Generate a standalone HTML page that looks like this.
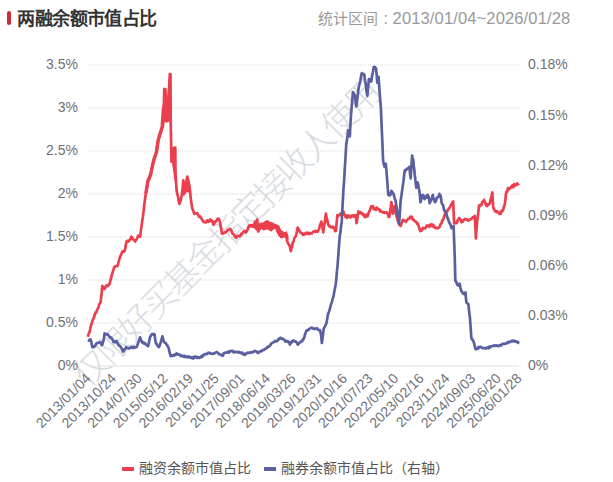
<!DOCTYPE html>
<html lang="zh-CN"><head><meta charset="utf-8">
<style>
html,body{margin:0;padding:0;background:#fff;width:613px;height:482px;overflow:hidden}
body{font-family:"Liberation Sans",sans-serif;position:relative}
svg{position:absolute;left:0;top:0}
.g{stroke:#dadada;stroke-width:1;stroke-dasharray:1 1}
.yl{font-size:14px;fill:#6e7079;font-family:"Liberation Sans",sans-serif}
.xl{font-size:14px;fill:#6e7079;font-family:"Liberation Sans",sans-serif}
.wm{font-size:35px;fill:#d5d9e0;stroke:#fff;stroke-width:0.8px}
</style></head><body>
<svg width="613" height="482" viewBox="0 0 613 482">
<rect x="7" y="11" width="4" height="14" rx="2" fill="#cc2b36"/>
<text x="17.3" y="25.3" font-size="18" font-weight="bold" fill="#333" textLength="140" lengthAdjust="spacing">两融余额市值占比</text>
<text x="317.6" y="23.6" font-size="15" fill="#999">统计区间</text><text x="383.5" y="24" font-size="16" fill="#999">:</text><text x="392.6" y="24.2" font-size="16.5" fill="#999" textLength="177.6" lengthAdjust="spacing">2013/01/04~2026/01/28</text>
<text class="wm" transform="translate(81.8,382.6) rotate(-45)" dominant-baseline="middle" text-anchor="start" letter-spacing="-3.1">仅限好买基金指定接收人使用</text>
<line x1="88" y1="323.0" x2="519" y2="323.0" class="g"/><line x1="88" y1="280.0" x2="519" y2="280.0" class="g"/><line x1="88" y1="237.0" x2="519" y2="237.0" class="g"/><line x1="88" y1="194.0" x2="519" y2="194.0" class="g"/><line x1="88" y1="151.0" x2="519" y2="151.0" class="g"/><line x1="88" y1="108.0" x2="519" y2="108.0" class="g"/><line x1="88" y1="65.0" x2="519" y2="65.0" class="g"/>
<line x1="88" y1="366" x2="519" y2="366" stroke="#e0e0e0" stroke-width="1"/>
<text x="78" y="369.5" text-anchor="end" class="yl">0%</text><text x="78" y="326.5" text-anchor="end" class="yl">0.5%</text><text x="78" y="283.5" text-anchor="end" class="yl">1%</text><text x="78" y="240.5" text-anchor="end" class="yl">1.5%</text><text x="78" y="197.5" text-anchor="end" class="yl">2%</text><text x="78" y="154.5" text-anchor="end" class="yl">2.5%</text><text x="78" y="111.5" text-anchor="end" class="yl">3%</text><text x="78" y="68.5" text-anchor="end" class="yl">3.5%</text>
<text x="528" y="370.3" class="yl">0%</text><text x="528" y="320.1" class="yl">0.03%</text><text x="528" y="270.0" class="yl">0.06%</text><text x="528" y="219.8" class="yl">0.09%</text><text x="528" y="169.6" class="yl">0.12%</text><text x="528" y="119.5" class="yl">0.15%</text><text x="528" y="69.3" class="yl">0.18%</text>
<text transform="translate(88.8,376.5) rotate(-45)" text-anchor="end" dominant-baseline="middle" class="xl">2013/01/04</text><text transform="translate(114.4,376.5) rotate(-45)" text-anchor="end" dominant-baseline="middle" class="xl">2013/10/24</text><text transform="translate(140.1,376.5) rotate(-45)" text-anchor="end" dominant-baseline="middle" class="xl">2014/07/30</text><text transform="translate(165.8,376.5) rotate(-45)" text-anchor="end" dominant-baseline="middle" class="xl">2015/05/12</text><text transform="translate(191.4,376.5) rotate(-45)" text-anchor="end" dominant-baseline="middle" class="xl">2016/02/19</text><text transform="translate(217.1,376.5) rotate(-45)" text-anchor="end" dominant-baseline="middle" class="xl">2016/11/25</text><text transform="translate(242.7,376.5) rotate(-45)" text-anchor="end" dominant-baseline="middle" class="xl">2017/09/01</text><text transform="translate(268.3,376.5) rotate(-45)" text-anchor="end" dominant-baseline="middle" class="xl">2018/06/14</text><text transform="translate(294.0,376.5) rotate(-45)" text-anchor="end" dominant-baseline="middle" class="xl">2019/03/26</text><text transform="translate(319.6,376.5) rotate(-45)" text-anchor="end" dominant-baseline="middle" class="xl">2019/12/31</text><text transform="translate(345.3,376.5) rotate(-45)" text-anchor="end" dominant-baseline="middle" class="xl">2020/10/16</text><text transform="translate(370.9,376.5) rotate(-45)" text-anchor="end" dominant-baseline="middle" class="xl">2021/07/23</text><text transform="translate(396.6,376.5) rotate(-45)" text-anchor="end" dominant-baseline="middle" class="xl">2022/05/10</text><text transform="translate(422.2,376.5) rotate(-45)" text-anchor="end" dominant-baseline="middle" class="xl">2023/02/16</text><text transform="translate(447.9,376.5) rotate(-45)" text-anchor="end" dominant-baseline="middle" class="xl">2023/11/24</text><text transform="translate(473.6,376.5) rotate(-45)" text-anchor="end" dominant-baseline="middle" class="xl">2024/09/03</text><text transform="translate(499.2,376.5) rotate(-45)" text-anchor="end" dominant-baseline="middle" class="xl">2025/06/20</text><text transform="translate(519.8,376.5) rotate(-45)" text-anchor="end" dominant-baseline="middle" class="xl">2026/01/28</text>
<path d="M87.9,336.9 L88.6,333.7 L89.3,332.7 L90.0,330.0 L90.7,326.5 L91.4,324.5 L92.1,322.0 L92.8,319.6 L93.5,318.3 L94.2,317.1 L94.9,314.1 L95.6,312.4 L96.3,312.5 L97.0,310.1 L97.7,308.7 L98.5,307.5 L99.2,304.3 L100.0,303.4 L100.7,301.8 L101.5,294.3 L102.3,285.9 L103.0,286.8 L103.7,288.8 L104.4,289.1 L105.2,288.4 L105.9,286.0 L106.7,285.4 L107.4,285.8 L108.1,286.0 L108.9,284.3 L109.6,283.9 L110.4,280.5 L111.1,278.1 L111.9,274.6 L112.7,272.1 L113.4,269.8 L114.2,267.1 L114.9,266.9 L115.5,266.2 L116.2,266.0 L116.8,265.8 L117.5,266.2 L118.2,263.5 L119.0,260.5 L119.8,257.4 L120.5,255.7 L121.1,254.9 L121.8,252.9 L122.4,251.4 L123.1,251.7 L123.7,250.8 L124.4,251.4 L125.1,249.2 L125.7,245.8 L126.4,241.9 L127.1,240.8 L127.9,240.9 L128.6,241.3 L129.3,240.5 L130.0,239.6 L130.6,238.8 L131.3,236.6 L132.1,237.4 L132.9,239.2 L133.6,239.9 L134.4,240.1 L135.2,241.5 L135.9,240.2 L136.7,239.3 L137.4,237.8 L138.2,235.6 L138.9,235.9 L139.5,236.4 L140.2,236.6 L140.8,230.7 L141.5,226.2 L142.1,221.8 L142.9,216.5 L143.7,210.0 L144.4,204.2 L145.2,197.7 L145.9,193.2 L146.6,189.3 L147.2,185.8 L147.9,181.0 L148.6,180.1 L149.2,177.6 L149.8,176.3 L150.5,175.0 L151.2,171.5 L152.0,168.0 L152.8,165.4 L153.5,161.0 L154.2,158.8 L155.0,156.1 L155.8,154.2 L156.5,152.0 L157.0,146.9 L157.5,145.0 L158.0,140.4 L158.5,139.0 L159.2,137.2 L160.0,134.0 L160.6,133.6 L161.2,130.3 L161.9,127.6 L162.5,126.0 L163.0,121.6 L163.5,118.0 L163.9,103.5 L164.3,89.0 L164.8,89.6 L165.3,89.0 L165.9,97.8 L166.5,106.0 L167.1,105.4 L167.6,105.1 L168.2,104.0 L168.7,93.7 L169.3,84.0 L169.8,74.0 L170.5,74.0 L170.7,121.0 L171.1,141.9 L171.5,161.7 L171.9,156.2 L172.4,150.6 L172.9,151.2 L173.5,151.8 L174.3,149.6 L175.1,147.9 L175.5,173.5 L176.0,181.5 L176.5,189.3 L177.2,193.9 L177.9,195.7 L178.7,200.9 L179.4,204.0 L180.0,202.4 L180.6,200.4 L181.2,197.9 L181.8,195.2 L182.6,188.4 L183.3,180.4 L184.1,186.3 L184.9,192.2 L185.5,188.4 L186.1,184.2 L186.7,179.5 L187.3,176.5 L188.0,180.2 L188.6,182.5 L189.3,185.3 L190.1,191.3 L190.8,199.1 L191.5,203.6 L192.2,208.0 L192.9,209.9 L193.5,211.5 L194.2,213.9 L194.9,213.2 L195.6,213.5 L196.4,213.5 L197.1,212.9 L197.8,214.5 L198.4,215.4 L199.1,216.8 L199.8,216.1 L200.6,217.5 L201.3,218.1 L202.1,219.8 L202.8,220.6 L203.6,221.9 L204.3,222.2 L205.0,221.8 L205.8,222.4 L206.5,222.2 L207.2,220.3 L208.0,220.8 L208.7,221.8 L209.4,221.3 L210.2,219.5 L210.9,220.8 L211.7,220.3 L212.4,221.2 L213.2,224.4 L213.9,224.6 L214.7,222.6 L215.5,221.4 L216.3,221.2 L217.1,219.5 L217.9,218.6 L218.6,218.7 L219.2,219.9 L219.9,221.6 L220.5,225.6 L221.2,228.8 L221.8,233.4 L222.6,232.7 L223.4,233.4 L224.2,232.7 L225.0,232.2 L225.8,232.4 L226.6,231.6 L227.4,230.0 L228.1,230.1 L228.9,229.4 L229.7,228.9 L230.4,229.1 L231.0,229.9 L231.7,231.5 L232.5,233.5 L233.3,233.9 L234.0,234.5 L234.8,236.4 L235.6,237.4 L236.4,237.8 L237.2,236.0 L238.0,235.8 L238.8,235.9 L239.6,236.4 L240.4,235.9 L241.2,233.8 L241.9,233.9 L242.7,232.8 L243.5,231.5 L244.2,231.6 L245.0,230.9 L245.8,232.5 L246.5,231.5 L247.2,230.6 L247.9,228.5 L248.7,226.4 L249.4,225.5 L250.2,225.8 L251.0,225.3 L251.7,225.7 L252.5,225.1 L253.3,225.5 L254.1,224.6 L254.9,222.3 L255.7,221.6 L256.5,221.7 L257.3,219.6 L257.8,226.3 L258.3,231.5 L259.0,229.2 L259.8,229.2 L260.5,225.7 L261.2,224.6 L262.0,225.8 L262.8,225.0 L263.6,223.7 L264.4,223.0 L265.2,223.6 L266.0,221.8 L266.8,224.4 L267.5,221.5 L268.3,223.8 L269.1,222.6 L269.9,224.7 L270.7,224.0 L271.5,223.3 L272.3,226.1 L273.1,225.5 L273.9,227.4 L274.7,227.0 L275.4,226.7 L276.2,226.7 L277.0,227.5 L277.7,228.3 L278.3,229.2 L279.0,231.5 L279.6,233.7 L280.3,234.6 L280.9,236.4 L281.7,234.8 L282.5,233.9 L283.3,235.1 L284.1,233.3 L284.9,233.4 L285.7,235.6 L286.5,237.2 L287.2,241.1 L288.0,243.4 L288.8,244.3 L289.5,245.1 L290.1,247.9 L290.8,251.2 L291.5,247.7 L292.1,246.8 L292.8,242.3 L293.5,241.7 L294.2,238.8 L295.0,237.0 L295.7,236.4 L296.4,233.8 L297.0,231.1 L297.7,227.5 L298.4,229.6 L299.1,229.6 L299.9,231.9 L300.6,232.4 L301.4,233.3 L302.1,233.4 L302.9,234.9 L303.6,234.4 L304.4,233.6 L305.1,234.4 L305.9,232.8 L306.6,233.4 L307.4,232.7 L308.2,234.2 L308.9,232.8 L309.7,233.9 L310.5,233.4 L311.3,233.2 L312.1,233.3 L312.8,232.0 L313.6,231.6 L314.4,231.5 L315.2,230.9 L316.0,231.8 L316.8,231.1 L317.6,231.6 L318.4,230.5 L319.1,229.0 L319.9,225.3 L320.6,223.9 L321.3,221.6 L322.0,224.4 L322.6,227.9 L323.3,232.4 L323.9,226.9 L324.6,223.8 L325.2,219.0 L325.9,213.7 L326.7,218.0 L327.4,220.6 L328.2,224.6 L328.9,225.5 L329.5,226.4 L330.1,226.1 L330.8,227.1 L331.6,227.5 L332.3,226.8 L333.1,226.7 L333.8,228.1 L334.5,228.4 L335.1,231.1 L335.8,231.0 L336.6,223.3 L337.3,215.2 L338.1,216.4 L338.9,215.1 L339.7,215.2 L340.4,213.6 L341.2,214.1 L341.9,213.2 L342.7,211.3 L343.4,211.4 L344.1,214.7 L344.9,214.6 L345.6,217.2 L346.4,215.9 L347.2,217.9 L348.0,215.3 L348.8,215.7 L349.6,216.2 L350.4,217.6 L351.2,216.1 L351.9,215.4 L352.7,215.6 L353.5,216.6 L354.2,215.4 L354.8,216.3 L355.5,215.2 L356.0,218.0 L356.5,223.1 L357.1,220.3 L357.8,214.9 L358.4,211.3 L359.1,213.1 L359.9,213.4 L360.6,212.2 L361.4,213.3 L362.2,213.4 L363.0,214.8 L363.7,214.5 L364.5,216.8 L365.3,217.2 L366.1,215.2 L366.8,214.4 L367.6,216.4 L368.3,214.3 L369.0,211.8 L369.8,210.6 L370.5,208.2 L371.2,206.4 L372.0,206.3 L372.8,206.0 L373.6,208.8 L374.4,209.3 L375.2,208.4 L376.0,209.9 L376.8,207.7 L377.5,208.1 L378.3,209.4 L379.1,209.3 L379.9,211.3 L380.7,210.7 L381.5,211.7 L382.3,212.3 L383.1,212.5 L383.8,212.0 L384.5,213.0 L385.2,212.5 L385.9,212.5 L386.6,212.2 L387.3,213.6 L388.0,214.0 L388.6,217.0 L389.3,216.7 L390.0,211.7 L390.7,207.5 L391.4,202.2 L392.1,208.3 L392.8,213.6 L393.4,212.4 L393.9,208.4 L394.5,206.3 L395.2,209.2 L395.9,212.7 L396.6,216.7 L397.3,218.3 L398.0,221.8 L398.7,222.9 L399.4,225.0 L400.0,224.6 L400.7,226.0 L401.4,223.6 L402.1,222.0 L402.8,219.8 L403.6,220.5 L404.4,221.0 L405.1,220.9 L405.9,221.9 L406.7,220.2 L407.4,219.8 L408.2,218.7 L409.0,218.8 L409.7,218.2 L410.4,216.5 L411.1,216.7 L411.8,216.9 L412.5,219.0 L413.2,219.8 L414.0,219.9 L414.8,221.4 L415.5,221.4 L416.3,221.9 L417.0,223.7 L417.6,223.3 L418.3,225.0 L419.0,227.1 L419.7,229.7 L420.4,231.2 L421.2,229.6 L421.9,230.5 L422.7,228.2 L423.5,228.1 L424.2,228.3 L424.9,228.4 L425.6,227.8 L426.3,226.3 L427.0,225.4 L427.7,226.0 L428.4,225.9 L429.1,226.7 L429.8,225.0 L430.4,226.3 L431.1,224.3 L431.8,225.0 L432.5,226.4 L433.2,224.7 L433.9,225.8 L434.6,227.6 L435.3,227.8 L436.0,227.5 L436.8,228.4 L437.6,228.2 L438.3,227.9 L439.1,227.3 L439.7,226.7 L440.4,224.4 L441.0,224.0 L441.6,223.1 L442.2,220.6 L442.9,220.3 L443.5,218.6 L444.1,216.5 L444.7,214.7 L445.4,213.1 L446.0,213.7 L446.6,211.5 L447.2,211.3 L447.9,209.9 L448.5,209.1 L449.1,208.2 L449.7,207.9 L450.4,206.0 L451.0,204.8 L451.6,204.0 L452.4,202.4 L453.2,201.5 L453.6,211.8 L454.1,223.1 L454.7,222.1 L455.4,223.4 L456.0,222.9 L456.6,223.1 L457.2,222.0 L457.9,219.7 L458.5,219.1 L459.1,218.1 L459.9,218.8 L460.7,220.2 L461.5,222.3 L462.2,221.2 L462.9,221.6 L463.5,220.1 L464.2,219.5 L464.9,219.0 L465.6,219.5 L466.2,219.1 L466.9,219.0 L467.5,220.3 L468.2,220.6 L468.8,220.2 L469.4,220.1 L470.1,219.3 L470.7,219.0 L471.4,218.9 L472.1,218.5 L472.8,217.0 L473.4,217.0 L474.1,216.5 L474.8,216.0 L475.4,226.7 L475.9,238.5 L476.4,230.6 L477.0,223.1 L477.7,217.4 L478.3,212.3 L479.0,205.7 L479.6,206.3 L480.2,204.9 L480.9,205.4 L481.5,204.9 L482.1,202.7 L482.8,201.5 L483.4,201.2 L484.0,199.9 L484.6,202.1 L485.2,202.1 L485.9,204.8 L486.5,205.7 L487.2,206.0 L487.8,204.3 L488.5,204.6 L489.1,204.4 L489.8,203.2 L490.4,200.2 L491.1,198.2 L491.7,195.6 L492.3,192.4 L492.7,199.6 L493.1,206.5 L493.7,208.5 L494.4,209.8 L495.0,211.2 L495.6,211.5 L496.3,212.1 L497.0,211.3 L497.7,212.0 L498.4,212.3 L499.1,213.8 L499.8,214.0 L500.6,214.0 L501.4,210.9 L502.2,211.5 L502.8,210.4 L503.4,208.9 L504.1,206.1 L504.7,204.9 L505.4,199.5 L506.0,194.0 L506.6,191.4 L507.3,191.7 L508.0,188.0 L508.6,188.0 L509.3,189.2 L510.1,188.2 L510.8,187.3 L511.5,186.5 L512.2,185.5 L512.8,187.2 L513.5,187.1 L514.1,184.1 L514.8,185.0 L515.5,185.4 L516.3,185.1 L517.0,183.5 L517.7,184.0 L518.3,184.1 L519.0,183.5" fill="none" stroke="#ec3f4e" stroke-width="2.7" stroke-linejoin="round"/>
<path d="M145.9,193.2 L147.9,181 L150.5,175 L152,168 L153.5,161 L156.5,152 L157.5,145 L158.5,139 L160,134 L162.5,126 L163.5,118" fill="none" stroke="#ec3f4e" stroke-width="3.4" stroke-linejoin="miter"/>
<polygon points="247.5,224.9 250.6,223.7 253.7,224.3 256.8,218.1 258,223.7 261.2,222.4 264.9,223 268.6,221.2 272.4,222.4 276.1,224.3 279.2,225.5 281.1,229.9 284.8,232.4 286.7,231.1 288.5,236.1 288.5,239.9 284.8,237.4 281.1,238.6 278,235.5 274.9,228.6 271.1,231.8 267.4,229.3 263.6,230.5 259.9,228 257.4,231.8 253.7,228 250,227.4" fill="#ec3f4e"/>
<polygon points="169.8,148 174.3,146.5 176.3,146.5 176.3,181 174.6,181" fill="#ec3f4e"/>
<polygon points="182,195 183.1,179.5 185,184 187.5,176.2 189.5,180 191.2,194 187,192 184,196" fill="#ec3f4e"/>
<polygon points="160.5,126 161.7,109 163.6,101.6 164.5,104 166.5,106 168.2,104 170.6,100 171.2,128 169.8,121.5 166.7,122.8 164.2,121.5 161.7,122.8" fill="#ec3f4e"/>
<path d="M87.9,340.2 L88.6,340.6 L89.2,340.3 L89.9,339.3 L90.7,340.0 L91.4,342.2 L92.2,347.1 L92.8,346.2 L93.5,347.2 L94.2,346.8 L94.8,346.2 L95.4,345.5 L96.1,343.9 L96.7,343.2 L97.5,343.1 L98.2,342.9 L99.0,342.6 L99.7,342.2 L100.5,342.7 L101.3,344.1 L102.1,345.2 L102.8,342.5 L103.6,340.2 L104.1,337.1 L104.6,333.3 L105.3,334.3 L106.1,334.5 L106.8,334.1 L107.6,334.3 L108.3,335.2 L108.9,335.9 L109.6,337.3 L110.3,337.1 L111.0,337.5 L111.8,338.7 L112.5,339.3 L113.0,340.5 L113.5,342.2 L114.2,341.7 L115.0,342.1 L115.8,341.2 L116.5,340.8 L117.1,342.4 L117.8,343.3 L118.4,345.2 L119.2,345.2 L119.9,346.4 L120.7,346.8 L121.4,348.1 L122.0,349.2 L122.7,351.2 L123.3,351.5 L124.0,350.7 L124.8,348.8 L125.5,348.8 L126.3,347.1 L127.0,347.9 L127.6,348.1 L128.3,348.1 L129.0,348.5 L129.8,348.0 L130.5,347.8 L131.2,347.1 L132.0,346.9 L132.8,348.0 L133.6,348.1 L134.4,346.9 L135.2,347.5 L135.8,347.5 L136.5,347.0 L137.1,346.2 L137.8,343.9 L138.6,341.8 L139.3,339.5 L140.1,337.3 L140.8,339.6 L141.4,340.6 L142.1,342.2 L142.8,343.0 L143.6,342.5 L144.3,343.6 L145.0,343.2 L145.8,344.6 L146.5,344.6 L147.2,345.6 L148.0,346.2 L148.7,343.9 L149.3,340.6 L150.0,337.3 L150.6,336.3 L151.3,334.9 L151.9,334.3 L152.6,334.0 L153.2,334.6 L153.8,333.8 L154.5,334.3 L155.2,339.4 L155.9,343.2 L156.6,343.8 L157.4,345.8 L158.1,345.8 L158.8,347.1 L159.5,346.2 L160.1,344.2 L160.8,342.2 L161.6,339.3 L162.4,336.3 L163.1,338.8 L163.7,341.2 L164.3,342.2 L165.0,342.8 L165.7,343.1 L166.3,344.2 L167.1,345.0 L167.9,346.8 L168.7,348.1 L169.3,351.4 L170.0,353.6 L170.6,356.0 L171.3,355.1 L172.1,356.0 L172.8,355.6 L173.6,355.0 L174.4,355.5 L175.2,354.1 L175.9,354.8 L176.7,353.5 L177.5,354.0 L178.3,354.6 L179.1,354.4 L179.9,354.8 L180.7,356.2 L181.5,356.0 L182.2,355.5 L182.9,356.2 L183.6,356.8 L184.3,355.9 L185.0,356.0 L185.7,357.1 L186.4,356.6 L187.1,356.7 L187.9,357.3 L188.6,356.4 L189.4,357.1 L190.1,357.0 L190.8,357.9 L191.6,357.2 L192.3,358.0 L193.0,358.5 L193.7,356.8 L194.3,357.8 L195.0,357.2 L195.7,356.5 L196.4,357.0 L197.1,358.0 L197.8,357.0 L198.5,357.1 L199.2,358.0 L199.9,357.8 L200.7,357.1 L201.5,356.0 L202.2,357.0 L203.0,355.2 L203.8,355.2 L204.6,354.1 L205.4,354.2 L206.1,354.2 L206.9,354.0 L207.7,353.2 L208.5,352.7 L209.3,353.2 L210.0,352.8 L210.8,353.6 L211.6,353.8 L212.3,354.0 L213.0,353.6 L213.7,353.6 L214.4,353.1 L215.1,353.0 L215.8,352.5 L216.5,351.9 L217.2,352.5 L218.0,352.7 L218.8,354.0 L219.5,354.4 L220.2,354.5 L220.9,354.5 L221.7,355.4 L222.4,355.8 L223.1,355.4 L223.7,353.3 L224.4,352.9 L225.1,352.9 L225.9,352.5 L226.6,352.6 L227.3,352.5 L228.1,351.6 L228.9,352.6 L229.6,351.2 L230.4,351.4 L231.2,350.9 L231.9,351.2 L232.7,350.9 L233.4,352.2 L234.2,352.5 L235.0,351.9 L235.8,351.8 L236.5,351.8 L237.3,352.0 L238.1,352.5 L238.9,351.9 L239.7,352.7 L240.4,352.5 L241.2,353.3 L242.0,352.5 L242.7,353.8 L243.4,354.4 L244.2,353.8 L244.9,354.8 L245.7,354.1 L246.4,353.3 L247.2,353.2 L247.9,352.5 L248.7,352.7 L249.5,353.0 L250.2,352.8 L251.0,352.1 L251.8,352.5 L252.6,352.1 L253.4,352.1 L254.1,351.0 L254.9,350.8 L255.7,351.3 L256.3,351.7 L257.0,351.7 L257.6,352.9 L258.4,352.9 L259.2,351.8 L260.0,351.3 L260.8,351.1 L261.6,351.3 L262.4,350.4 L263.2,349.9 L263.9,349.9 L264.7,349.3 L265.5,348.9 L266.2,348.0 L266.9,348.0 L267.7,346.7 L268.4,346.6 L269.1,346.5 L269.9,345.8 L270.6,344.6 L271.4,343.5 L272.1,342.9 L272.9,342.6 L273.6,342.3 L274.3,341.7 L275.0,340.8 L275.8,341.3 L276.5,341.3 L277.2,341.1 L277.9,339.8 L278.7,338.8 L279.4,339.1 L280.2,337.8 L280.9,337.8 L281.6,338.3 L282.4,339.2 L283.1,338.8 L283.8,339.7 L284.6,339.8 L285.3,341.6 L286.0,341.5 L286.8,341.4 L287.5,341.0 L288.2,342.2 L289.0,342.1 L289.4,342.7 L289.9,344.6 L290.6,343.1 L291.2,342.8 L291.9,341.1 L292.7,341.5 L293.5,340.5 L294.2,341.3 L295.0,341.3 L295.8,341.5 L296.5,342.5 L297.1,343.1 L297.8,344.6 L298.5,344.1 L299.2,342.7 L300.0,342.4 L300.7,342.1 L301.4,341.1 L302.2,341.2 L302.9,339.1 L303.7,339.0 L304.3,337.4 L304.9,334.5 L305.6,333.1 L306.2,331.0 L306.8,330.5 L307.4,330.2 L308.1,330.3 L308.7,329.5 L309.5,329.0 L310.2,328.3 L311.0,328.0 L311.7,327.6 L312.5,328.0 L313.2,328.7 L314.0,328.5 L314.7,329.1 L315.5,328.8 L316.2,328.6 L316.9,328.1 L317.7,329.4 L318.4,329.9 L319.2,330.1 L319.9,330.0 L320.4,332.0 L321.0,334.0 L321.4,338.3 L321.9,343.0 L322.5,338.3 L323.1,334.1 L323.7,329.0 L324.3,327.4 L324.9,326.5 L325.6,325.2 L326.2,324.0 L326.8,321.4 L327.4,317.8 L328.0,314.0 L328.6,312.9 L329.3,311.0 L329.9,308.7 L330.5,306.2 L331.1,303.9 L331.8,302.2 L332.4,300.0 L333.0,297.6 L333.6,296.0 L334.2,292.0 L334.9,288.4 L335.6,284.9 L336.2,280.3 L336.8,273.0 L337.5,265.9 L338.1,258.0 L338.7,249.9 L339.2,242.8 L339.8,235.6 L340.4,232.3 L341.1,225.8 L341.7,222.1 L342.3,210.1 L343.0,197.5 L343.6,186.7 L344.0,182.7 L344.8,168.6 L345.5,157.5 L346.3,143.5 L346.9,140.3 L347.6,135.1 L348.2,130.4 L348.7,131.5 L349.3,133.9 L349.8,136.4 L350.4,125.0 L351.0,114.9 L351.6,107.7 L352.3,100.2 L352.9,92.2 L353.5,92.9 L354.0,93.9 L354.6,94.6 L355.2,97.6 L355.7,102.6 L356.3,106.5 L356.9,102.4 L357.6,96.8 L358.2,91.0 L358.9,86.5 L359.6,83.9 L360.4,80.8 L361.1,76.1 L361.8,73.1 L362.6,74.4 L363.4,73.8 L364.2,74.3 L365.0,80.2 L365.8,84.8 L366.5,91.6 L367.3,95.8 L368.1,88.1 L368.9,79.1 L369.5,79.9 L370.1,79.4 L370.7,80.8 L371.3,81.5 L372.1,75.6 L372.9,72.2 L373.7,67.2 L374.3,68.4 L374.9,67.0 L375.5,68.1 L376.1,68.4 L376.7,75.5 L377.3,82.7 L377.9,79.5 L378.5,76.7 L379.3,87.5 L380.1,98.4 L380.9,107.7 L381.6,125.9 L382.4,143.0 L383.1,160.7 L383.9,164.5 L384.6,166.9 L385.2,165.1 L385.8,163.8 L386.6,173.0 L387.3,181.5 L387.8,188.5 L388.3,194.9 L389.0,195.3 L389.7,195.5 L390.4,194.9 L390.9,192.4 L391.4,190.8 L392.1,192.0 L392.8,192.7 L393.5,193.9 L394.2,196.2 L394.8,198.8 L395.5,200.1 L396.2,205.1 L396.9,209.0 L397.6,214.6 L398.4,219.2 L399.1,223.9 L399.9,212.3 L400.7,200.1 L401.4,195.9 L402.1,190.7 L402.8,185.6 L403.5,180.9 L404.2,174.5 L404.9,170.1 L405.7,170.3 L406.4,169.4 L407.2,168.7 L408.0,168.0 L408.7,168.1 L409.4,166.9 L410.0,173.2 L410.7,178.3 L411.4,166.3 L412.1,155.5 L412.6,158.1 L413.2,159.7 L413.7,165.3 L414.3,169.6 L414.8,175.2 L415.6,181.8 L416.3,187.7 L417.0,185.2 L417.7,182.5 L418.3,184.8 L418.8,188.5 L419.4,190.8 L419.9,195.2 L420.4,202.2 L421.1,200.2 L421.8,197.1 L422.5,194.9 L423.2,195.4 L423.9,197.9 L424.6,199.1 L425.4,197.9 L426.1,195.9 L426.9,197.6 L427.7,194.9 L428.4,196.1 L429.0,198.6 L429.7,203.2 L430.5,201.1 L431.2,200.3 L432.0,197.5 L432.8,194.9 L433.5,198.3 L434.2,199.7 L434.9,202.2 L435.7,201.5 L436.4,199.0 L437.2,197.5 L438.0,197.0 L438.7,196.3 L439.4,193.9 L440.1,194.9 L440.8,196.5 L441.5,202.0 L442.2,204.2 L443.0,204.9 L443.8,208.8 L444.5,210.7 L445.3,211.5 L446.1,213.4 L446.9,215.9 L447.6,218.2 L448.4,219.8 L449.2,222.5 L449.9,223.4 L450.7,225.5 L451.5,228.1 L452.2,227.2 L452.9,226.6 L453.6,226.0 L454.2,242.2 L454.8,259.1 L455.3,280.9 L456.1,281.5 L456.9,283.9 L457.7,285.2 L458.4,285.5 L459.0,284.1 L459.7,283.8 L460.4,287.5 L461.2,291.0 L462.0,291.8 L462.7,292.9 L463.5,294.0 L464.2,294.1 L464.8,292.7 L465.5,292.5 L465.9,297.8 L466.4,302.7 L467.1,303.1 L467.7,303.7 L468.4,304.1 L469.1,311.3 L469.9,317.2 L470.6,326.7 L471.3,337.6 L472.1,339.6 L472.9,340.2 L473.7,341.9 L474.4,344.6 L475.0,347.2 L475.7,349.2 L476.4,349.1 L477.2,348.3 L477.9,348.6 L478.6,347.0 L479.4,347.5 L480.1,346.9 L480.8,346.9 L481.6,347.4 L482.3,348.1 L483.0,348.2 L483.7,348.2 L484.4,347.9 L485.2,348.0 L485.9,348.6 L486.6,348.2 L487.3,347.6 L488.1,347.4 L488.8,348.2 L489.5,346.5 L490.2,347.4 L491.0,346.4 L491.7,346.3 L492.4,346.0 L493.1,345.9 L493.9,345.4 L494.6,345.9 L495.3,345.4 L496.1,345.8 L496.8,345.4 L497.5,345.7 L498.2,346.2 L499.0,346.0 L499.7,345.1 L500.4,345.2 L501.1,345.5 L501.9,344.4 L502.6,343.9 L503.3,343.9 L504.1,343.7 L504.8,344.0 L505.5,343.9 L506.2,343.1 L507.0,342.7 L507.7,343.1 L508.4,341.8 L509.1,341.9 L509.8,342.2 L510.6,341.6 L511.3,341.0 L512.0,341.5 L512.8,340.5 L513.5,340.5 L514.2,341.3 L514.9,341.6 L515.6,341.2 L516.4,341.7 L517.1,342.4 L517.8,341.9 L518.5,343.0 L519.3,343.4" fill="none" stroke="#5a5fa0" stroke-width="2.7" stroke-linejoin="round"/>
<rect x="122" y="467" width="12" height="4" rx="0.6" fill="#ec3f4e"/>
<text x="139" y="472.6" font-size="14" fill="#555">融资余额市值占比</text>
<rect x="264" y="467" width="12" height="4" rx="0.6" fill="#5a5fa0"/>
<text x="281" y="472.6" font-size="14" fill="#555">融券余额市值占比（右轴）</text>
</svg>
</body></html>
